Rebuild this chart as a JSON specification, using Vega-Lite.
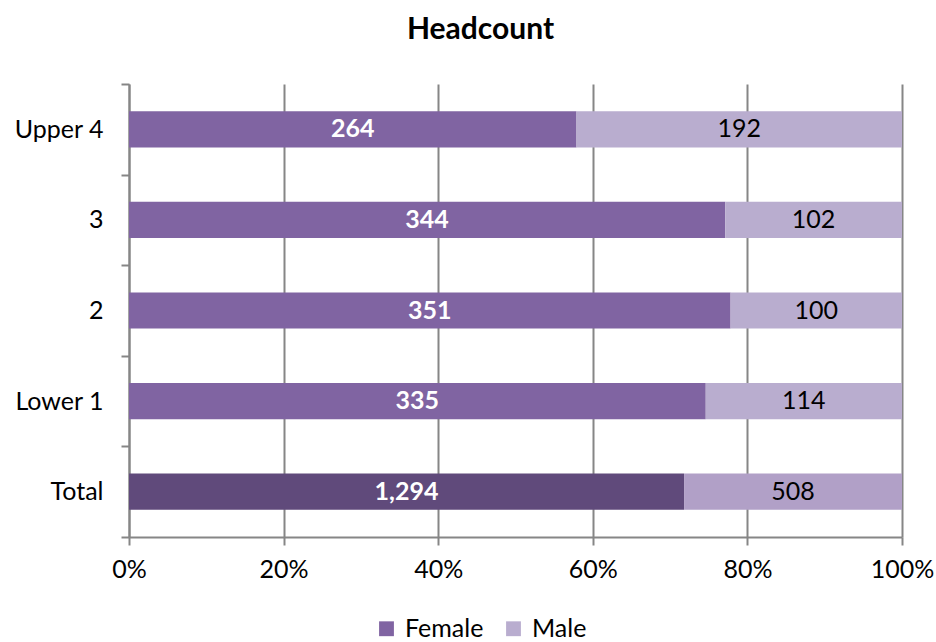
{
  "$schema": "https://vega.github.io/schema/vega-lite/v6.json",
  "width": 773,
  "height": 453,
  "autosize": "none",
  "padding": {"left": 129, "top": 84, "right": 34, "bottom": 105},
  "background": "white",
  "title": {
    "text": "Headcount",
    "font": "Lato",
    "fontSize": 30,
    "fontWeight": "bold",
    "color": "#000000",
    "anchor": "middle",
    "dx": -35,
    "offset": 27
  },
  "config": {
    "view": {"stroke": null},
    "font": "Lato"
  },
  "data": {
    "values": [
      {"cat": "Upper 4", "gender": "Female", "count": 264},
      {"cat": "Upper 4", "gender": "Male", "count": 192},
      {"cat": "3", "gender": "Female", "count": 344},
      {"cat": "3", "gender": "Male", "count": 102},
      {"cat": "2", "gender": "Female", "count": 351},
      {"cat": "2", "gender": "Male", "count": 100},
      {"cat": "Lower 1", "gender": "Female", "count": 335},
      {"cat": "Lower 1", "gender": "Male", "count": 114},
      {"cat": "Total", "gender": "Female", "count": 1294},
      {"cat": "Total", "gender": "Male", "count": 508}
    ]
  },
  "encoding": {
    "y": {
      "field": "cat",
      "type": "nominal",
      "sort": ["Upper 4", "3", "2", "Lower 1", "Total"],
      "scale": {"paddingInner": 0, "paddingOuter": 0},
      "axis": {
        "title": null,
        "tickBand": "extent",
        "tickSize": 8,
        "tickWidth": 2,
        "tickColor": "#868686",
        "domainColor": "#868686",
        "domainWidth": 2,
        "labelFontSize": 25,
        "labelColor": "#000000",
        "labelPadding": 18,
        "grid": false
      }
    }
  },
  "layer": [
    {
      "mark": {"type": "bar", "height": {"band": 0.4}},
      "encoding": {
        "x": {
          "field": "count",
          "type": "quantitative",
          "stack": "normalize",
          "scale": {"domain": [0, 1]},
          "axis": {
            "title": null,
            "values": [0, 0.2, 0.4, 0.6, 0.8, 1],
            "format": ".0%",
            "grid": true,
            "gridColor": "#868686",
            "gridWidth": 2,
            "tickSize": 8,
            "tickWidth": 2,
            "tickColor": "#868686",
            "domainColor": "#868686",
            "domainWidth": 2,
            "labelFontSize": 25,
            "labelColor": "#000000",
            "labelPadding": 12,
            "labelFlush": false
          }
        },
        "color": {
          "field": "gender",
          "type": "nominal",
          "scale": {"domain": ["Female", "Male"], "range": ["#8064A2", "#B9ADCF"]},
          "condition": [
            {"test": "datum.cat === 'Total' && datum.gender === 'Female'", "value": "#604A7B"},
            {"test": "datum.cat === 'Total' && datum.gender === 'Male'", "value": "#B1A0C7"}
          ],
          "legend": {
            "title": null,
            "orient": "none",
            "direction": "horizontal",
            "legendX": 245,
            "legendY": 532,
            "symbolType": "square",
            "symbolSize": 220,
            "symbolStrokeWidth": 0,
            "labelFontSize": 25,
            "labelColor": "#000000",
            "columnPadding": 17,
            "labelOffset": 6
          }
        }
      }
    },
    {
      "mark": {"type": "text", "fontSize": 25, "fontWeight": "bold", "color": "white"},
      "encoding": {
        "x": {"field": "count", "type": "quantitative", "stack": "normalize", "bandPosition": 0.5},
        "detail": {"field": "gender", "type": "nominal"},
        "order": {"field": "gender", "type": "nominal", "sort": "ascending"},
        "text": {"field": "count", "type": "quantitative", "format": ",d"},
        "opacity": {"condition": {"test": "datum.gender === 'Female'", "value": 1}, "value": 0}
      }
    },
    {
      "mark": {"type": "text", "fontSize": 25, "color": "black"},
      "encoding": {
        "x": {"field": "count", "type": "quantitative", "stack": "normalize", "bandPosition": 0.5},
        "detail": {"field": "gender", "type": "nominal"},
        "order": {"field": "gender", "type": "nominal", "sort": "ascending"},
        "text": {"field": "count", "type": "quantitative", "format": ",d"},
        "opacity": {"condition": {"test": "datum.gender === 'Male'", "value": 1}, "value": 0}
      }
    }
  ]
}
